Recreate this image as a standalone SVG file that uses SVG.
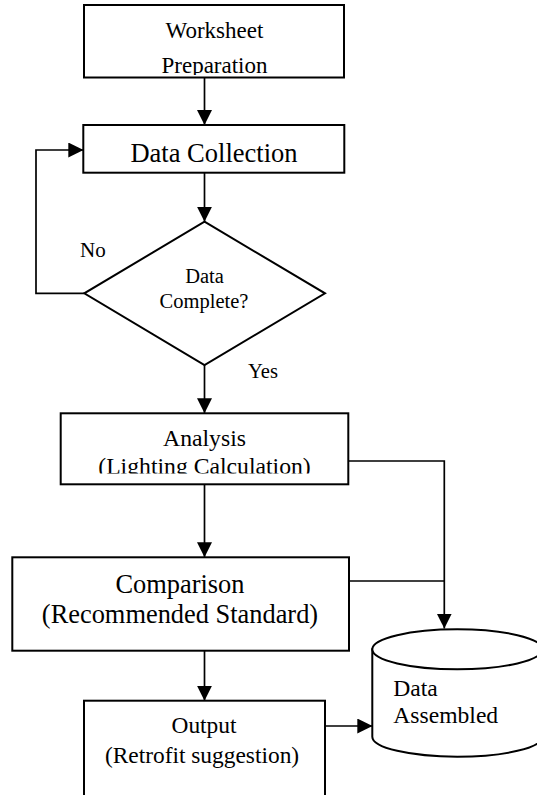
<svg xmlns="http://www.w3.org/2000/svg" width="537" height="795" viewBox="0 0 537 795">
<style>
.box{fill:#fff;stroke:#000;stroke-width:2}
.ln{fill:none;stroke:#000;stroke-width:1.7}
text{font-family:"Liberation Serif","Times New Roman",serif;fill:#000}
.c{text-anchor:middle}
</style>
<defs>
<marker id="ah" viewBox="0 0 15 15" refX="15" refY="7.5" markerWidth="15" markerHeight="15" markerUnits="userSpaceOnUse" orient="auto">
<path d="M0,0 L15,7.5 L0,15 Z" fill="#000"/>
</marker>
<clipPath id="clipW"><rect x="84" y="5" width="260" height="70"/></clipPath>
<clipPath id="clipA"><rect x="60" y="413" width="288" height="60.5"/></clipPath>
</defs>
<rect width="537" height="795" fill="#fff"/>
<g id="connectors">
<path class="ln" d="M204.5,77.5 V125" marker-end="url(#ah)"/>
<path class="ln" d="M204.5,172.7 V221.7" marker-end="url(#ah)"/>
<path class="ln" d="M84.3,293.3 H36 V150 H83.3" marker-end="url(#ah)"/>
<path class="ln" d="M204.5,365 V413.3" marker-end="url(#ah)"/>
<path class="ln" d="M204.5,484.3 V557.3" marker-end="url(#ah)"/>
<path class="ln" d="M204.5,650.7 V700.7" marker-end="url(#ah)"/>
<path class="ln" d="M348.3,461 H444.3 V628.6" marker-end="url(#ah)"/>
<path class="ln" d="M349,581 H444.3"/>
<path class="ln" d="M325,726 H372.3" marker-end="url(#ah)"/>
</g>
<g id="worksheet">
<rect class="box" x="84" y="5" width="260" height="72.5"/>
<g clip-path="url(#clipW)">
<text class="c" x="214.5" y="38.3" font-size="23">Worksheet</text>
<text class="c" x="214.5" y="73.3" font-size="23">Preparation</text>
</g>
</g>
<g id="data-collection">
<rect class="box" x="83.3" y="125" width="261" height="47.7"/>
<text class="c" x="214" y="161.7" font-size="26.5">Data Collection</text>
</g>
<g id="decision">
<path class="box" d="M204.5,221.7 L325,293.3 L204.5,365 L84.3,293.3 Z"/>
<text class="c" x="204.5" y="282.7" font-size="20.5">Data</text>
<text class="c" x="204" y="308" font-size="20.5">Complete?</text>
</g>
<g id="label-no"><text x="80" y="257" font-size="21">No</text></g>
<g id="label-yes"><text x="248" y="378" font-size="20.6">Yes</text></g>
<g id="analysis">
<rect class="box" x="60.7" y="413.3" width="287.6" height="71"/>
<g clip-path="url(#clipA)">
<text class="c" x="204.5" y="445.7" font-size="23.7">Analysis</text>
<text class="c" x="204.5" y="474" font-size="23.7">(Lighting Calculation)</text>
</g>
</g>
<g id="comparison">
<rect class="box" x="12.3" y="557.3" width="336.7" height="93.4"/>
<text class="c" x="180" y="593.3" font-size="26.4">Comparison</text>
<text class="c" x="180" y="623.3" font-size="26.4">(Recommended Standard)</text>
</g>
<g id="output">
<rect class="box" x="84" y="700.7" width="241" height="120"/>
<text class="c" x="204" y="733.3" font-size="23.4">Output</text>
<text class="c" x="202" y="762.7" font-size="23.4">(Retrofit suggestion)</text>
</g>
<g id="data-assembled">
<path class="box" d="M372.3,649.3 V736.7 A85,20 0 0,0 542.3,736.7 V649.3 Z"/>
<ellipse class="box" cx="457.3" cy="649.3" rx="85" ry="20"/>
<text x="393.3" y="696" font-size="23.6">Data</text>
<text x="393.3" y="723.3" font-size="23.6">Assembled</text>
</g>
</svg>
